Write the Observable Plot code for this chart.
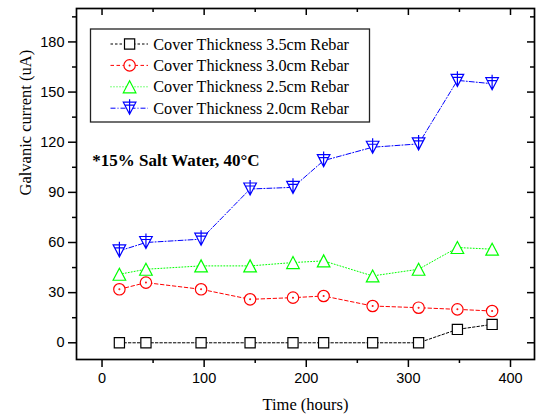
<!DOCTYPE html>
<html><head><meta charset="utf-8">
<script src="https://cdn.jsdelivr.net/npm/d3@7"></script>
<script src="https://cdn.jsdelivr.net/npm/@observablehq/plot@0.6"></script>
<style>html,body{margin:0;padding:0;background:#fff}</style>
</head><body><div id="chart"></div>
<script>
// ---- data ----
const hours   = [17, 43, 97, 145, 187, 217, 265, 310, 348, 382];
const cover35 = [0, 0, 0, 0, 0, 0, 0, 0, 8, 11];
const cover30 = [32, 36, 32, 26, 27, 28, 22, 21, 20, 19];
const cover25 = [41, 44, 46, 46, 48, 49, 40, 44, 57, 56];
const cover20 = [55, 60, 62, 92, 93, 109, 117, 119, 157, 155];
const seriesNames = [
  "Cover Thickness 3.5cm Rebar",
  "Cover Thickness 3.0cm Rebar",
  "Cover Thickness 2.5cm Rebar",
  "Cover Thickness 2.0cm Rebar"
];
const xTicks = [0, 100, 200, 300, 400];
const xMinor = [50, 150, 250, 350];
const yTicks = [0, 30, 60, 90, 120, 150, 180];
const yMinor = [15, 45, 75, 105, 135, 165, 195];
const xLabel = "Time (hours)";
const yLabel = "Galvanic current (uA)";
const note = "*15% Salt Water, 40°C";

// ---- layout / styles ----
const W = 537, H = 416, mL = 76, mR = 3, mT = 8, mB = 57;
const plotW = W - mL - mR, plotH = H - mT - mB;
const serif = "'Liberation Serif', 'Times New Roman', serif";

function mk(fn) { return {draw(ctx, size) { fn(ctx, Math.sqrt(size / Math.PI)); }}; }
const symSquare = mk((c, s) => { const h = s * 0.85; c.moveTo(-h, -h); c.lineTo(h, -h); c.lineTo(h, h); c.lineTo(-h, h); c.closePath(); });
const symCircle = mk((c, s) => { const r = s * 0.95; c.moveTo(r, 0); c.arc(0, 0, r, 0, 2 * Math.PI); c.closePath(); c.moveTo(0.4, 0); c.arc(0, 0, 0.4, 0, 2 * Math.PI); c.closePath(); });
const symTriUp = mk((c, s) => { const hw = s * 1.05, hh = s * 1.0; c.moveTo(0, -hh); c.lineTo(hw, hh); c.lineTo(-hw, hh); c.closePath(); });
const symTriDownCross = mk((c, s) => {
  const hw = s * 1.05, hh = s * 1.0;
  c.moveTo(-hw, -hh); c.lineTo(hw, -hh); c.lineTo(0, hh); c.closePath();
  c.moveTo(0, -hh - 3); c.lineTo(0, hh);
  c.moveTo(-hw * 0.8, -hh + 3); c.lineTo(hw * 0.8, -hh + 3);
});

const seriesValues = [cover35, cover30, cover25, cover20];
const styles = [
  {color: "#000000", dash: "2.5,2", symbol: symSquare},
  {color: "#ff0000", dash: "3.5,2.5", symbol: symCircle},
  {color: "#00ff00", dash: "1,2", symbol: symTriUp},
  {color: "#0000ff", dash: "5,2,1,2", symbol: symTriDownCross}
];

const marks = [];
const tables = seriesValues.map(vals => hours.map((h, j) => ({hours: h, value: vals[j]})));
tables.forEach((data, i) => {
  marks.push(Plot.line(data, {x: "hours", y: "value", stroke: styles[i].color, strokeWidth: 1, strokeDasharray: styles[i].dash}));
});
tables.forEach((data, i) => {
  marks.push(Plot.dot(data, {x: "hours", y: "value", r: 6, symbol: styles[i].symbol, stroke: styles[i].color, fill: "white", strokeWidth: 1.2}));
});

marks.push(
  Plot.axisX(xTicks, {tickSize: 8, tickPadding: 5, label: null, fontSize: 14.5, strokeWidth: 1.5}),
  Plot.axisX(xMinor, {tickSize: 4, tickFormat: () => "", label: null, strokeWidth: 1.5}),
  Plot.axisY(yTicks, {tickSize: 8, tickPadding: 4, label: null, fontSize: 14.5, strokeWidth: 1.5}),
  Plot.axisY(yMinor, {tickSize: 4, tickFormat: () => "", label: null, strokeWidth: 1.5}),
  Plot.tickX(xTicks, {x: d => d, insetBottom: plotH - 7, strokeWidth: 1.5}),
  Plot.tickX(xMinor, {x: d => d, insetBottom: plotH - 4, strokeWidth: 1.5}),
  Plot.tickY(yTicks, {y: d => d, insetLeft: plotW - 7, strokeWidth: 1.5}),
  Plot.tickY(yMinor, {y: d => d, insetLeft: plotW - 4, strokeWidth: 1.5}),
  Plot.frame({stroke: "#000", strokeWidth: 1.7}),
  Plot.text([xLabel], {text: d => d, frameAnchor: "bottom", dy: 50, lineAnchor: "bottom", fontFamily: serif, fontSize: 16.5, fill: "#000"}),
  Plot.text([yLabel], {text: d => d, frameAnchor: "left", rotate: -90, dx: -51, dy: 11.5, fontFamily: serif, fontSize: 16.5, fill: "#000"}),
  Plot.text([note], {text: d => d, frameAnchor: "top-left", dx: 15.7, dy: 157, textAnchor: "start", lineAnchor: "bottom", fontFamily: serif, fontWeight: "bold", fontSize: 17, fill: "#000"})
);

const plot = Plot.plot({
  width: W, height: H,
  marginLeft: mL, marginRight: mR, marginTop: mT, marginBottom: mB,
  x: {domain: [-25, 423.5]},
  y: {domain: [-10, 200]},
  style: {fontFamily: "'Liberation Sans', Arial, sans-serif", fontSize: "14px", color: "#000", background: "#fff", overflow: "visible"},
  marks
});
document.getElementById("chart").appendChild(plot);

// ---- legend (inside the plot frame, top-left) ----
const svg = d3.select(plot);
const lg = svg.append("g").attr("text-anchor", "start");
lg.append("rect").attr("x", 90.5).attr("y", 29).attr("width", 279).attr("height", 93)
  .attr("fill", "white").attr("stroke", "#222").attr("stroke-width", 1.3);
seriesNames.forEach((name, i) => {
  const cy = 44 + i * 21.4;
  lg.append("line").attr("x1", 110.5).attr("x2", 148).attr("y1", cy).attr("y2", cy)
    .attr("stroke", styles[i].color).attr("stroke-width", 1).attr("stroke-dasharray", styles[i].dash);
  lg.append("path").attr("d", d3.symbol(styles[i].symbol, Math.PI * 36)())
    .attr("transform", `translate(129.6,${cy})`)
    .attr("fill", "white").attr("stroke", styles[i].color).attr("stroke-width", 1.2);
  lg.append("text").attr("x", 153.3).attr("y", cy).attr("dy", "0.35em").attr("text-anchor", "start")
    .attr("font-family", serif).attr("font-size", 16.2).attr("fill", "#000").text(name);
});
</script>
</body></html>
